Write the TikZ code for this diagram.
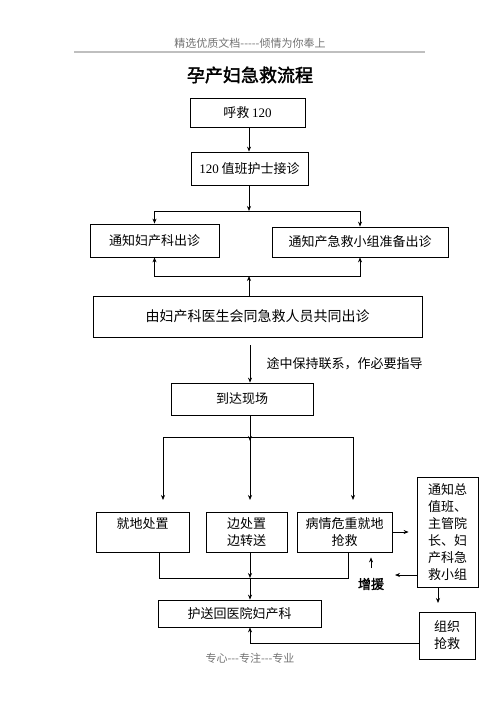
\documentclass[tikz,border=0pt]{standalone}
\usepackage{fontspec}
\setmainfont{Liberation Serif}
\newfontfamily\cjk[AutoFakeBold=2]{Noto Sans CJK SC}
\usetikzlibrary{arrows.meta}
\usetikzlibrary{positioning}

\begin{document}
\begin{tikzpicture}[
		x=1pt,y=-1pt,
		box/.style={draw,line width=0.8pt,inner sep=2pt,align=center,font=\cjk\fontsize{13}{17}\selectfont},
		arr/.style={-{Stealth[length=5pt,width=4pt]},line width=0.7pt},
		link/.style={line width=0.7pt},
		note/.style={font=\cjk\fontsize{11}{13}\selectfont,text=black!55}
		]
		\useasboundingbox (0,0) rectangle (500,708);
		% page header and title
		\node[note] (head) at (250,43) {精选优质文档-----倾情为你奉上};
		\draw[black!25,line width=1.2pt] (74,52) -- (425,52);
		\node[font=\cjk\bfseries\fontsize{18}{20}\selectfont] (title) at (250,75) {孕产妇急救流程};
		% boxes
		\node[box,minimum width=115,minimum height=29] (call) at (247.5,112.5) {呼救 {\rmfamily 120}};
		\node[box,minimum width=117,minimum height=33] (nurse) at (249.5,168.5) {{\rmfamily 120} 值班护士接诊};
		\node[box,minimum width=129,minimum height=33] (obst) at (154.5,240.5) {通知妇产科出诊};
		\node[box,minimum width=176,minimum height=30] (team) at (360,242) {通知产急救小组准备出诊};
		\node[box,minimum width=329,minimum height=41,font=\cjk\fontsize{14}{17}\selectfont] (doctor) at (257.5,316.5) {由妇产科医生会同急救人员共同出诊};
		\node[box,minimum width=142,minimum height=32] (arrive) at (242,399) {到达现场};
		\node[box,minimum width=93,minimum height=40] (local) at (142.5,532) {就地处置\\\mbox{}};
		\node[box,minimum width=81,minimum height=40] (transfer) at (246.5,532) {边处置\\边转送};
		\node[box,minimum width=95,minimum height=40] (severe) at (344.5,532) {病情危重就地\\抢救};
		\node[box,minimum width=61,minimum height=110] (notify) at (447.5,532) {通知总\\值班、\\主管院\\长、妇\\产科急\\救小组};
		\node[box,minimum width=163,minimum height=27] (escort) at (239.5,613.5) {护送回医院妇产科};
		\node[box,minimum width=56,minimum height=47] (organize) at (447,635.5) {组织\\抢救};
		\node[font=\cjk\bfseries\fontsize{13}{15}\selectfont] (help) at (371,584) {增援};
		\node[font=\cjk\fontsize{13}{15}\selectfont,anchor=west] (guide) at (263,364) {途中保持联系，作必要指导};
		\node[note] (foot) at (250,658) {专心---专注---专业};
		% junctions
		\coordinate (j1) at (249,211);
		\coordinate (j2) at (249,276);
		\coordinate (a1) at (250,345);
		\coordinate (j3) at (250,437);
		\coordinate (d1) at (163,500);
		\coordinate (d2) at (250,500);
		\coordinate (d3) at (353,500);
		\coordinate (m1) at (159,578);
		\coordinate (m2) at (250,578);
		\coordinate (m3) at (348,578);
		\coordinate (u1) at (371,568);
		\coordinate (l1) at (395,575);
		\coordinate (n1) at (438,603);
		\coordinate (r1) at (250,643);
		% connectors
		\draw[arr] (call.south -| j1) -- (nurse.north -| j1);
		\draw[arr] (nurse.south -| j1) -- (j1);
		\draw[arr] (j1) -| (obst.north);
		\draw[arr] (j1) -| (team.north);
		\draw[arr] (doctor.north -| j2) -- (j2);
		\draw[arr] (j2) -| (obst.south);
		\draw[arr] (j2) -| (team.south);
		\draw[arr] (a1) -- (arrive.north -| a1);
		\draw[arr] (arrive.south -| j3) -- ([yshift=-4pt]j3);
		\draw[link] (d1 |- j3) -- (d3 |- j3);
		\draw[arr] (d1 |- j3) -- (d1);
		\draw[arr] (j3) -- (d2);
		\draw[arr] (d3 |- j3) -- (d3);
		\draw[link] (local.south -| m1) -- (m1) -- (m3) -- (severe.south -| m3);
		\draw[arr] (transfer.south -| m2) -- (m2);
		\draw[arr] (m2) -- (escort.north -| m2);
		\draw[arr,shorten >=8pt] (severe.east) -- (severe.east -| notify.west);
		\draw[arr,shorten >=5pt] (u1) -- (u1 |- severe.south);
		\draw[arr] (notify.west |- l1) -- (l1);
		\draw[arr] (notify.south -| n1) -- (n1);
		\draw[arr] (organize.west |- r1) -- (r1) -- (escort.south -| r1);
	\end{tikzpicture}
\end{document}
